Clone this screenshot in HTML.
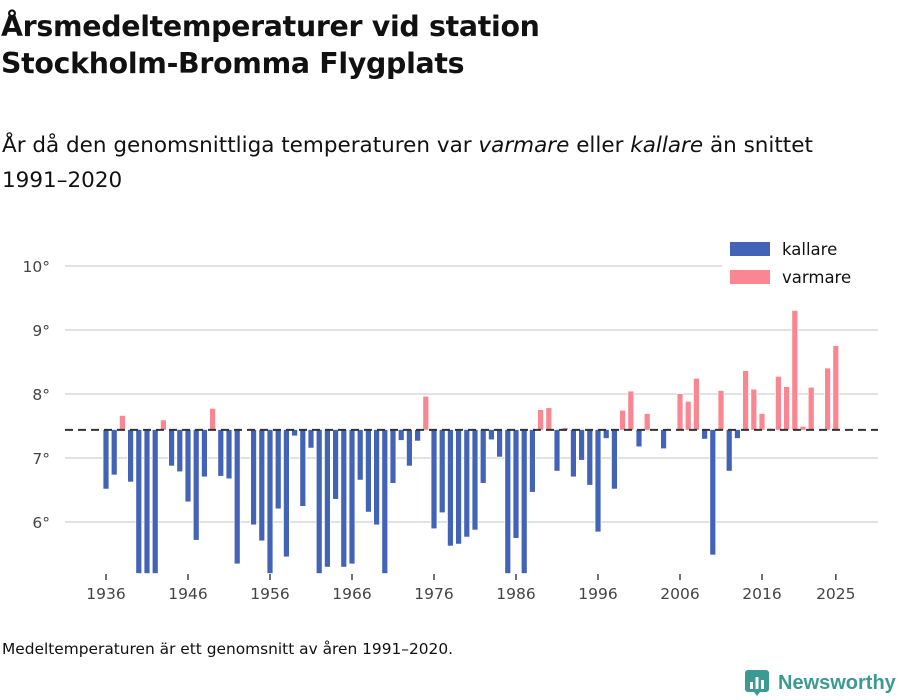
<!DOCTYPE html>
<html><head><meta charset="utf-8">
<style>
body{margin:0;width:900px;height:700px;background:#fff;font-family:"DejaVu Sans",sans-serif;color:#111;position:relative;overflow:hidden}
#title{position:absolute;left:1px;top:8px;font-size:28.4px;font-weight:bold;line-height:37px;margin:0;letter-spacing:-0.3px}
#sub{position:absolute;left:2px;top:128px;font-size:21.5px;line-height:35px;width:890px}
#foot{position:absolute;left:2px;top:640px;font-size:15.4px}
#logo{position:absolute;left:745px;top:670px;display:flex;align-items:center;color:#3c9a93;font-weight:bold;font-size:20px;font-family:"Liberation Sans",sans-serif}
svg{position:absolute;left:0;top:0}
</style></head><body>
<h1 id="title">Årsmedeltemperaturer vid station<br>Stockholm-Bromma Flygplats</h1>
<div id="sub">År då den genomsnittliga temperaturen var <i>varmare</i> eller <i>kallare</i> än snittet<br>1991–2020</div>
<svg id="chart" width="900" height="700"></svg>
<div id="foot">Medeltemperaturen är ett genomsnitt av åren 1991–2020.</div>
<div id="logo"><svg style="position:static" width="24" height="26" viewBox="0 0 24 26"><rect x="0" y="0" width="24" height="22" rx="3" fill="#3c9a93"/><polygon points="9,22 15,22 12,26" fill="#3c9a93"/><rect x="5" y="12" width="3" height="7" fill="#fff"/><rect x="10.5" y="7" width="3" height="12" fill="#fff"/><rect x="16" y="10" width="3" height="9" fill="#fff"/></svg><span style="margin-left:9px">Newsworthy</span></div>
<script>
const firstYear = 1936;
const temps = [6.52,6.74,7.66,6.63,5.2,5.2,5.2,7.59,6.88,6.79,6.32,5.72,6.71,7.77,6.72,6.68,5.35,7.44,5.96,5.71,5.2,6.21,5.46,7.35,6.25,7.16,5.2,5.30,6.36,5.30,5.35,6.66,6.16,5.96,5.2,6.61,7.28,6.88,7.27,7.96,5.90,6.15,5.63,5.66,5.77,5.88,6.61,7.29,7.02,5.2,5.75,5.2,6.47,7.75,7.78,6.80,7.47,6.71,6.97,6.58,5.85,7.31,6.52,7.74,8.04,7.18,7.69,7.44,7.15,7.44,8.0,7.88,8.24,7.30,5.49,8.05,6.80,7.31,8.36,8.07,7.69,7.46,8.27,8.11,9.30,7.49,8.10,7.44,8.40,8.75];
const mean = 7.44;
const yTicks = [6,7,8,9,10];
const xTicks = [1936,1946,1956,1966,1976,1986,1996,2006,2016,2025];
const yMin = 5.2;
const NS='http://www.w3.org/2000/svg';
const svg=document.getElementById('chart');
const y=v=>458-(v-7)*64;
const x=yr=>106+(yr-firstYear)*8.2;
function mk(t,a){const e=document.createElementNS(NS,t);for(const k in a)e.setAttribute(k,a[k]);svg.appendChild(e);return e;}
yTicks.forEach(v=>{
 const g=mk('line',{x1:65,x2:878,y1:y(v),y2:y(v),stroke:'#e2e2e2','stroke-width':2});
 
 
 const t=mk('text',{x:50,y:y(v)+6,'text-anchor':'end','font-size':15.5,fill:'#444','font-family':'DejaVu Sans, sans-serif'});
 t.textContent=v+'°';
 
 
});
temps.forEach((v,i)=>{
 const yr=firstYear+i;
 if(Math.abs(v-mean)<0.005)return;
 const vv=Math.max(v,yMin);
 const top=Math.min(y(vv),y(mean)),h=Math.abs(y(vv)-y(mean));
 const r=mk('rect',{x:x(yr)-2.6,y:top,width:5.2,height:h,fill:v<mean?'#4263b6':'#f98691',stroke:'#fff','stroke-width':1.5,'paint-order':'stroke'});
 
 
});
const ml=mk('line',{x1:65,x2:878,y1:y(mean),y2:y(mean),stroke:'#333','stroke-width':2,'stroke-dasharray':'8,5'});


xTicks.forEach(yr=>{
 const tk=mk('line',{x1:x(yr),x2:x(yr),y1:574,y2:580,stroke:'#444','stroke-width':1.5});
 
 
 const t=mk('text',{x:x(yr),y:599,'text-anchor':'middle','font-size':15.5,fill:'#444','font-family':'DejaVu Sans, sans-serif'});
 t.textContent=yr;
 
 
});
const lb=mk('rect',{x:722,y:234,width:156,height:58,fill:'#fff'});


[['kallare','#4263b6',242],['varmare','#f98691',270]].forEach(([n,c,yy])=>{
 const r=mk('rect',{x:730,y:yy,width:40,height:14,fill:c});
 
 
 const t=mk('text',{x:782,y:yy+13,'font-size':16.5,fill:'#111','font-family':'DejaVu Sans, sans-serif'});
 t.textContent=n;
 
 
});
</script>
</body></html>
